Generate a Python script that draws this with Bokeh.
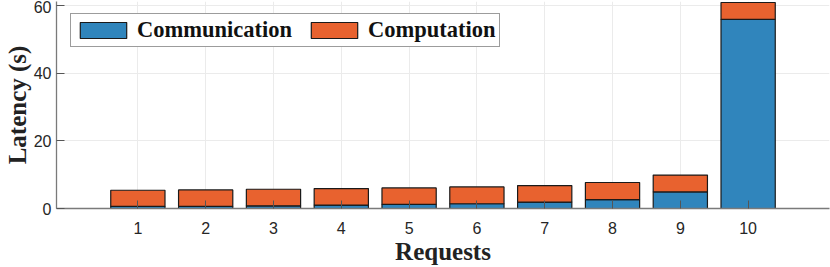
from bokeh.plotting import figure
from bokeh.models import Legend, LegendItem, FixedTicker, Range1d, ColumnDataSource
from bokeh.embed import file_html
from bokeh.resources import INLINE

# Data
requests = [1, 2, 3, 4, 5, 6, 7, 8, 9, 10]
communication = [0.6, 0.6, 0.8, 1.0, 1.2, 1.4, 1.9, 2.6, 4.9, 56.0]
computation = [4.8, 4.9, 4.9, 4.9, 4.9, 5.0, 4.9, 5.1, 5.0, 5.0]
series_names = ["Communication", "Computation"]
y_ticks = [0, 20, 40, 60]

BLUE = "#3085BC"
ORANGE = "#E8622F"

source = ColumnDataSource(dict(requests=requests, communication=communication,
                               computation=computation))

p = figure(width=830, height=267, output_backend="svg", toolbar_location=None,
           x_range=Range1d(-0.2, 11.2), y_range=Range1d(0, 61.3),
           min_border_left=10, min_border_right=1, min_border_top=1, min_border_bottom=0)
p.outline_line_color = None
p.background_fill_color = "white"

renderers = p.vbar_stack(["communication", "computation"], x="requests", width=0.8,
                         color=[BLUE, ORANGE], line_color="#1a1a1a", line_width=1.2,
                         source=source)

# axes
for ax in (p.xaxis[0], p.yaxis[0]):
    ax.axis_line_color = "#7a7a7a"
    ax.axis_line_width = 1.3
    ax.major_tick_line_color = "#555555"
    ax.major_tick_line_width = 1
    ax.major_tick_in = 8
    ax.major_tick_out = 0
    ax.minor_tick_line_color = None
    ax.major_label_text_font = "Liberation Sans"
    ax.major_label_text_font_size = "16px"
    ax.major_label_text_color = "#262626"
    ax.axis_label_text_font = "Liberation Serif"
    ax.axis_label_text_font_style = "bold"
    ax.axis_label_text_font_size = "25px"
    ax.axis_label_text_line_height = 1.0
    ax.axis_label_text_color = "#222222"

p.xaxis.ticker = FixedTicker(ticks=requests)
p.yaxis.ticker = FixedTicker(ticks=y_ticks)
p.xaxis.axis_label = "Requests"
p.yaxis.axis_label = "Latency (s)"
p.xaxis.major_label_standoff = 13
p.xaxis.axis_label_standoff = 1
p.yaxis.major_label_standoff = 5
p.yaxis.axis_label_standoff = 0

p.xgrid.grid_line_color = "#ebebeb"
p.ygrid.grid_line_color = "#ebebeb"
p.xgrid.grid_line_width = 1
p.ygrid.grid_line_width = 1

legend = Legend(items=[LegendItem(label=series_names[i], renderers=[renderers[i]])
                       for i in range(2)],
                orientation="horizontal", location=(14, 161))
legend.label_text_font = "Liberation Serif"
legend.label_text_font_style = "bold"
legend.label_text_font_size = "22.5px"
legend.label_text_line_height = 1.0
legend.label_text_color = "#111111"
legend.glyph_width = 58
legend.glyph_height = 20
legend.label_standoff = 5
legend.spacing = 13
legend.padding = 3
legend.margin = 0
legend.label_height = 20
legend.border_line_color = "#3a3a3a"
legend.border_line_width = 1.5
legend.background_fill_alpha = 1
p.add_layout(legend)

open("out.html", "w").write(file_html(p, INLINE))
